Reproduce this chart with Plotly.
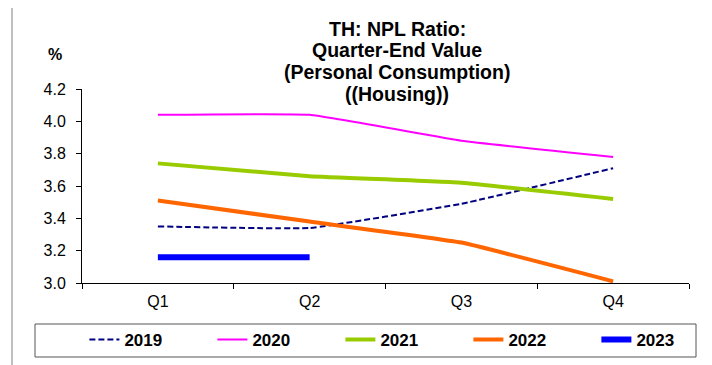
import plotly.graph_objects as go

quarters = ["Q1", "Q2", "Q3", "Q4"]
y2019 = [3.35, 3.34, 3.49, 3.71]
y2020 = [4.04, 4.04, 3.88, 3.78]
y2021 = [3.74, 3.66, 3.62, 3.52]
y2022 = [3.51, 3.38, 3.25, 3.01]
y2023 = [3.16, 3.16]
y_ticks = [3.0, 3.2, 3.4, 3.6, 3.8, 4.0, 4.2]
title_lines = ["TH: NPL Ratio:", "Quarter-End Value", "(Personal Consumption)", "((Housing))"]

# page has an 8px body margin, so the figure starts at (8, 8)
# plot area on the page: x 82..689, y 89..283
def px_x(x):
    return (x - 82) / 607

def px_y(y):
    return (283 - y) / 194

fig = go.Figure()

series = [
    ("2019", y2019, dict(color="#000080", width=2, dash="6px,3px")),
    ("2020", y2020, dict(color="#FF00FF", width=2)),
    ("2021", y2021, dict(color="#99CC00", width=4)),
    ("2022", y2022, dict(color="#FF6600", width=4)),
    ("2023", y2023, dict(color="#0000FF", width=6)),
]
for name, vals, line in series:
    fig.add_trace(go.Scatter(
        x=quarters[:len(vals)], y=vals, name="<b>" + name + "</b>", mode="lines",
        line=dict(shape="spline", smoothing=0.3, **line),
    ))

fig.update_layout(
    width=704, height=357,
    margin=dict(l=74, r=23, t=81, b=82, autoexpand=False),
    plot_bgcolor="white",
    paper_bgcolor="white",
    font=dict(family="Liberation Sans, Arial", color="black", size=16),
    showlegend=True,
    legend=dict(
        orientation="h",
        x=-0.001, xanchor="left",
        y=px_y(340), yanchor="middle",
        entrywidth=80, entrywidthmode="pixels",
        indentation=3,
        font=dict(size=17, color="black", family="Liberation Sans, Arial"),
        bgcolor="rgba(0,0,0,0)",
        borderwidth=0,
    ),
)

fig.update_xaxes(
    type="category", range=[-0.5, 3.5],
    tickson="boundaries", ticks="outside", ticklen=5, tickcolor="black",
    showline=True, linecolor="black", linewidth=1,
    showgrid=False, zeroline=False,
    ticklabelstandoff=4,
    tickfont=dict(size=16, color="black"),
)
fig.update_yaxes(
    range=[3.0, 4.2], tickvals=y_ticks, tickformat=".1f",
    ticks="outside", ticklen=5, tickcolor="black",
    showline=True, linecolor="black", linewidth=1,
    showgrid=False, zeroline=False,
    ticklabelstandoff=7,
    tickfont=dict(size=16, color="black"),
)

for text, y in zip(title_lines, [29, 50, 72, 94]):
    fig.add_annotation(
        text="<b>" + text + "</b>",
        xref="paper", yref="paper", x=px_x(397), y=px_y(y),
        xanchor="center", yanchor="middle", showarrow=False,
        font=dict(size=19.5, color="black"),
    )
fig.add_annotation(
    text="<b>%</b>", xref="paper", yref="paper", x=px_x(55), y=px_y(55),
    xanchor="center", yanchor="middle", showarrow=False,
    font=dict(size=16, color="black"),
)

# chart frame and legend box
fig.add_shape(type="rect", xref="paper", yref="paper",
              x0=px_x(12), x1=px_x(710), y0=px_y(380), y1=px_y(5),
              line=dict(color="#808080", width=1), layer="below")
fig.add_shape(type="line", xref="paper", yref="paper",
              x0=px_x(3), x1=px_x(3), y0=px_y(380), y1=px_y(0),
              line=dict(color="#A0A0A0", width=1))
fig.add_shape(type="rect", xref="paper", yref="paper",
              x0=px_x(35), x1=px_x(696), y0=px_y(357), y1=px_y(324),
              line=dict(color="#555555", width=1))

fig.write_html("out.html")
